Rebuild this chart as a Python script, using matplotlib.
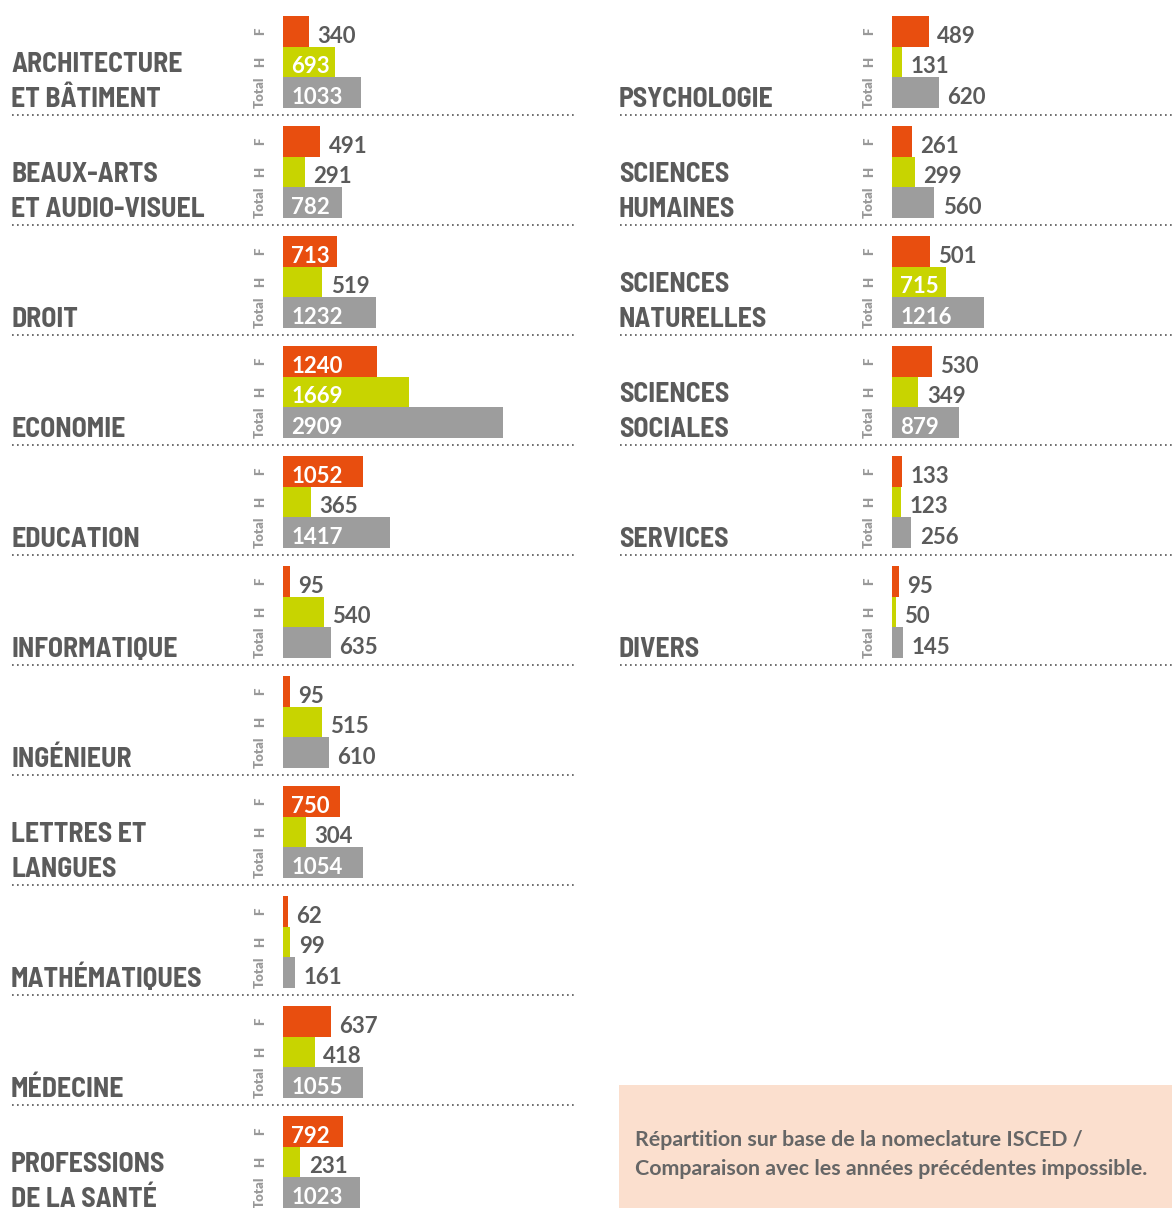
import matplotlib
matplotlib.use("Agg")
import matplotlib.pyplot as plt
import matplotlib.patches as patches
from matplotlib.lines import Line2D

# donnees (F, H, Total)
left_cats = ["ARCHITECTURE\nET BÂTIMENT", "BEAUX-ARTS\nET AUDIO-VISUEL", "DROIT", "ECONOMIE",
             "EDUCATION", "INFORMATIQUE", "INGÉNIEUR", "LETTRES ET\nLANGUES",
             "MATHÉMATIQUES", "MÉDECINE", "PROFESSIONS\nDE LA SANTÉ"]
left_f = [340, 491, 713, 1240, 1052, 95, 95, 750, 62, 637, 792]
left_h = [693, 291, 519, 1669, 365, 540, 515, 304, 99, 418, 231]
left_total = [1033, 782, 1232, 2909, 1417, 635, 610, 1054, 161, 1055, 1023]

right_cats = ["PSYCHOLOGIE", "SCIENCES\nHUMAINES", "SCIENCES\nNATURELLES", "SCIENCES\nSOCIALES",
              "SERVICES", "DIVERS"]
right_f = [489, 261, 501, 530, 133, 95]
right_h = [131, 299, 715, 349, 123, 50]
right_total = [620, 560, 1216, 879, 256, 145]

row_labels = ["F", "H", "Total"]
note = "Répartition sur base de la nomeclature ISCED /\nComparaison avec les années précédentes impossible."

W, H = 1172, 1208
SCALE = 0.0757          # pixels par etudiant
TOP = 16                # haut du premier groupe
STEP = 110              # hauteur d'un groupe
BAR_H = 30.7
INSIDE = 660            # au-dela, le chiffre va dans la barre

colors = ["#e84e0f", "#c8d400", "#9d9d9d"]
dark = "#5b5b5b"
cat_font = ["Barlow Semi Condensed", "DejaVu Sans"]
num_font = ["Lato", "DejaVu Sans"]

fig = plt.figure(figsize=(W / 100, H / 100), dpi=100)
fig.patch.set_facecolor("white")


def fx(x):
    return x / W


def fy(y):
    return 1 - y / H


def draw_column(cats, f, h, tot, x_lab, x_rowlab, x_bar, x_end):
    ax = fig.add_axes([fx(x_bar), 0, fx(W - x_bar), 1])
    ax.set_xlim(0, (W - x_bar) / SCALE)
    ax.set_ylim(H, 0)
    ax.axis("off")
    ax.patch.set_alpha(0)

    for i, cat in enumerate(cats):
        top = TOP + STEP * i
        vals = [f[i], h[i], tot[i]]
        ys = [top + k * BAR_H for k in range(3)]
        ax.barh(ys, vals, height=BAR_H, align="edge", color=colors, linewidth=0)

        for k in range(3):
            yb = ys[k] + BAR_H - 4
            if vals[k] > INSIDE:
                ax.annotate(str(vals[k]), (0, yb), xytext=(6, 0), textcoords="offset points",
                            ha="left", va="baseline", color="white", fontsize=16,
                            fontweight="bold", family=num_font)
            else:
                ax.annotate(str(vals[k]), (vals[k], yb), xytext=(6, 0), textcoords="offset points",
                            ha="left", va="baseline", color=dark, fontsize=16,
                            fontweight="bold", family=num_font)
            fig.text(fx(x_rowlab), fy(ys[k] + BAR_H / 2), row_labels[k], rotation=90,
                     ha="center", va="center", fontsize=9.5, fontweight="heavy",
                     color="#999999", family=num_font)

        # nom de la categorie, aligne sur le bas du groupe
        lines = cat.split("\n")
        base = top + 3 * BAR_H - 1
        for j, line in enumerate(reversed(lines)):
            fig.text(fx(x_lab), fy(base - 35 * j), line, ha="left", va="baseline",
                     fontsize=20, fontweight="bold", color=dark, family=cat_font)

        # separateur pointille
        ysep = top + STEP - 11
        fig.add_artist(Line2D([fx(x_lab + 1), fx(x_end)], [fy(ysep), fy(ysep)],
                              color="#555555", linewidth=1.2, linestyle=(0, (1, 2))))


draw_column(left_cats, left_f, left_h, left_total, 11, 260, 283, 575)
draw_column(right_cats, right_f, right_h, right_total, 619, 869, 892, 1172)

# encadre de la note
fig.add_artist(patches.Rectangle((fx(619), fy(1208)), fx(1172 - 619), (1208 - 1085) / H,
                                 transform=fig.transFigure, facecolor="#fbdfce",
                                 edgecolor="none"))
n1, n2 = note.split("\n")
fig.text(fx(635), fy(1146), n1, ha="left", va="baseline", fontsize=15.4,
         fontweight="bold", color="#666666", family=num_font)
fig.text(fx(635), fy(1175), n2, ha="left", va="baseline", fontsize=15.4,
         fontweight="bold", color="#666666", family=num_font)

fig.savefig("out.png", dpi=100)
